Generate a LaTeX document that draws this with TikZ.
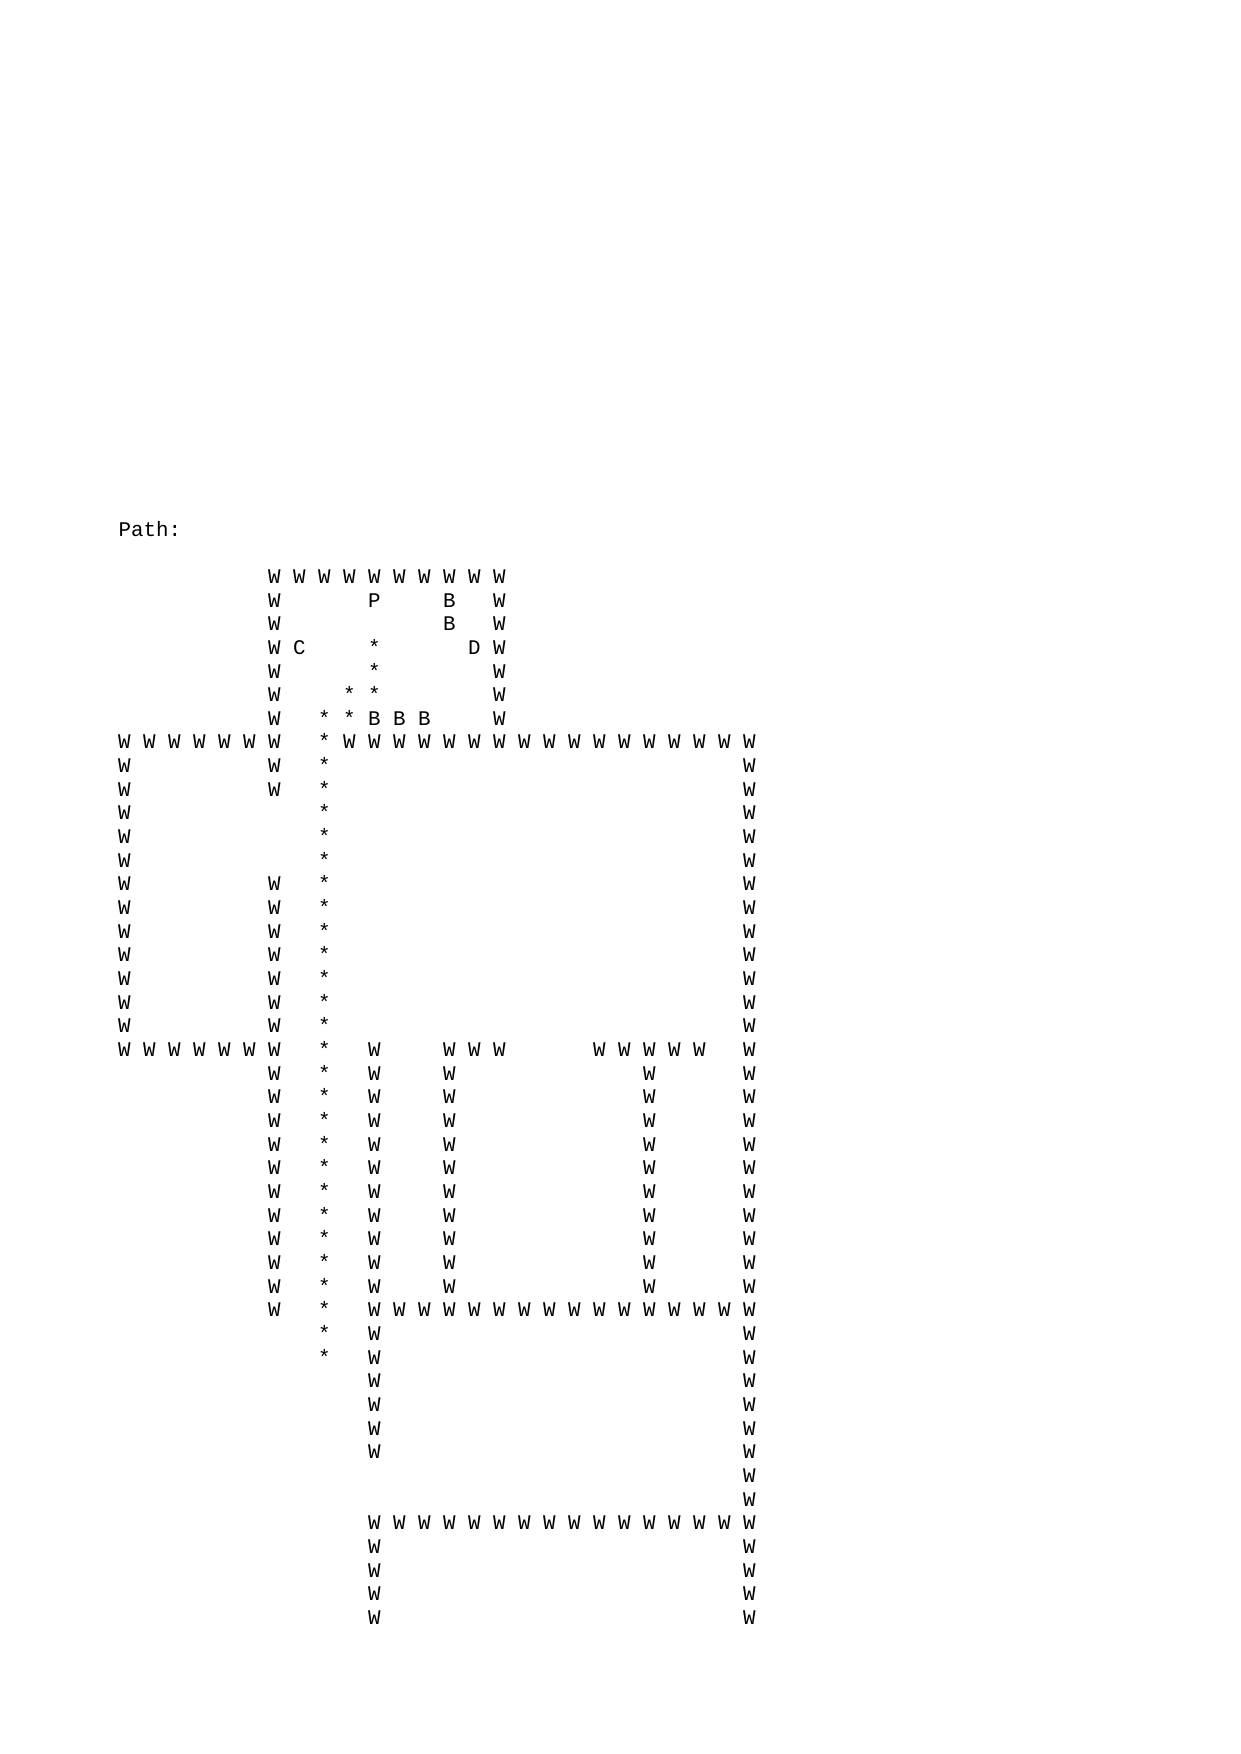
\documentclass[tikz,border=0pt]{standalone}
\usepackage{fontspec}
\setmonofont{Liberation Mono}
\begin{document}
\begin{tikzpicture}[x=1pt,y=1pt,
  ch/.style={anchor=base,inner sep=0pt,font=\ttfamily\fontsize{10pt}{11.36pt}\selectfont},
  lbl/.style={anchor=base west,inner sep=0pt,font=\ttfamily\fontsize{10pt}{11.36pt}\selectfont}]
\useasboundingbox[fill=white] (0,0) rectangle (595.276,-841.89);
\newcommand\cellat[3]{\node[ch] (g-#1-#2) at ({59.7+12*#2},{-280.0-11.357*#1}) {#3};}
\node[lbl] (title) at (56.7,-257.3) {Path:};
% walls
\foreach \r/\cols in {0/{6,...,15},1/{6,15},2/{6,15},3/{6,15},4/{6,15},5/{6,15},6/{6,15},
  7/{0,...,6,9,10,...,25},8/{0,6,25},9/{0,6,25},10/{0,25},11/{0,25},12/{0,25},
  13/{0,6,25},14/{0,6,25},15/{0,6,25},16/{0,6,25},17/{0,6,25},18/{0,6,25},19/{0,6,25},
  20/{0,...,6,10,13,14,15,19,20,21,22,23,25},
  21/{6,10,13,21,25},22/{6,10,13,21,25},23/{6,10,13,21,25},24/{6,10,13,21,25},25/{6,10,13,21,25},
  26/{6,10,13,21,25},27/{6,10,13,21,25},28/{6,10,13,21,25},29/{6,10,13,21,25},30/{6,10,13,21,25},
  31/{6,10,11,...,25},32/{10,25},33/{10,25},34/{10,25},35/{10,25},36/{10,25},37/{10,25},
  38/{25},39/{25},40/{10,11,...,25},41/{10,25},42/{10,25},43/{10,25},44/{10,25}}
  {\foreach \c in \cols {\cellat{\r}{\c}{W}}}
% path stars
\foreach \r/\c in {3/10,4/10,5/9,5/10,6/8,6/9} {\cellat{\r}{\c}{*}}
\foreach \r in {7,...,33} {\cellat{\r}{8}{*}}
% items
\cellat{1}{10}{P}
\cellat{1}{13}{B}
\cellat{2}{13}{B}
\cellat{3}{7}{C}
\cellat{3}{14}{D}
\cellat{6}{10}{B}
\cellat{6}{11}{B}
\cellat{6}{12}{B}
\end{tikzpicture}
\end{document}
